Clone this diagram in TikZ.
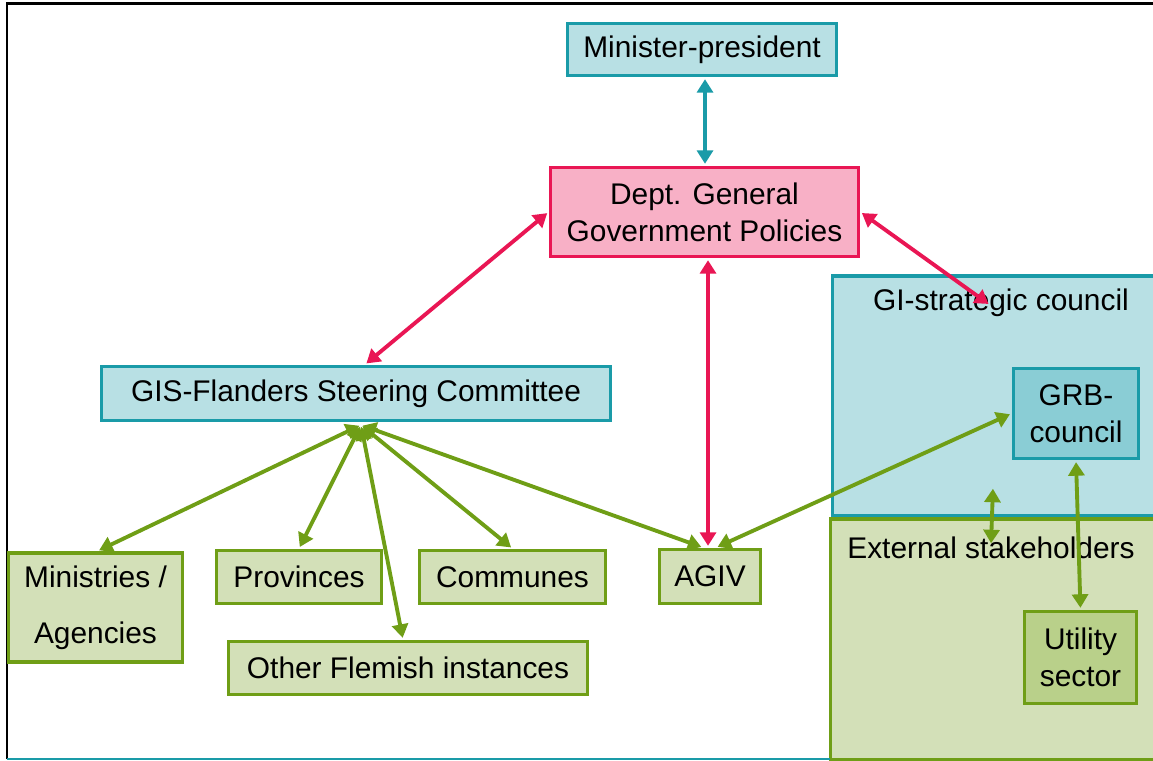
\documentclass[tikz,border=0pt]{standalone}
\usepackage{fontspec}
\setmainfont{Liberation Sans}
\usetikzlibrary{arrows.meta}
\definecolor{tealline}{RGB}{26,155,168}
\definecolor{tealfill}{RGB}{184,224,228}
\definecolor{tealdark}{RGB}{138,205,213}
\definecolor{pinkline}{RGB}{233,22,84}
\definecolor{pinkfill}{RGB}{248,176,198}
\definecolor{greenline}{RGB}{111,158,22}
\definecolor{greenfill}{RGB}{211,224,184}
\definecolor{greendark}{RGB}{185,208,138}

\begin{document}
\begin{tikzpicture}[font=\fontsize{17}{21}\selectfont,
  box/.style={shape=rectangle,line width=2.2pt,inner sep=0pt,align=center},
  bluebox/.style={box,draw=tealline,fill=tealfill},
  greenbox/.style={box,draw=greenline,fill=greenfill},
  twoway/.style={line width=2.2pt,{Triangle[length=0.27cm,width=0.32cm]}-{Triangle[length=0.27cm,width=0.32cm]},shorten <=1pt,shorten >=1pt}]
\useasboundingbox (0,0) rectangle (23.06,-15.22);
% the two large panels on the right
\node[bluebox,minimum width=6.61cm,minimum height=4.8cm] (GSC) at (19.955,-7.92) {};
\node[greenbox,minimum width=6.65cm,minimum height=4.82cm] (EXT) at (19.935,-12.79) {};
\node (GSCt) at (20.02,-6.06) {GI-strategic council};
\node (EXTt) at (19.82,-10.96) {External stakeholders};
% frame
\draw[line width=1.6pt] (0.14,-15.18) -- (0.14,-0.07) -- (23.06,-0.07);
\draw[tealline,line width=1.2pt] (0.14,-15.18) -- (16.6,-15.18);
% boxes
\node[bluebox,minimum width=5.38cm,minimum height=1.04cm] (MP) at (14.04,-0.99) {Minister-president};
\node[box,draw=pinkline,fill=pinkfill,minimum width=6.16cm,minimum height=1.78cm] (DG) at (14.09,-4.24) {Dept. General\\Government Policies};
\node[bluebox,minimum width=10.18cm,minimum height=1.08cm] (GIS) at (7.12,-7.87) {GIS-Flanders Steering Committee};
\node[bluebox,fill=tealdark,minimum width=2.5cm,minimum height=1.8cm] (GRB) at (21.52,-8.27) {GRB-\\council};
\node[greenbox,fill=greendark,minimum width=2.24cm,minimum height=1.84cm] (UT) at (21.61,-13.15) {Utility\\sector};
\node[greenbox,minimum width=3.48cm,minimum height=2.18cm] (MA) at (1.91,-12.15) {Ministries /\\[11pt]Agencies};
\node[greenbox,minimum width=3.3cm,minimum height=1.06cm] (PR) at (5.98,-11.54) {Provinces};
\node[greenbox,minimum width=3.72cm,minimum height=1.06cm] (CO) at (10.25,-11.54) {Communes};
\node[greenbox,minimum width=7.18cm,minimum height=1.06cm] (OF) at (8.16,-13.36) {Other Flemish instances};
\node[greenbox,minimum width=2.02cm,minimum height=1.08cm] (AG) at (14.2,-11.53) {AGIV};
% free arrow ends
\coordinate (hub) at (7.22,-8.5);
\coordinate (GSCtip) at (19.8,-6.1);
\coordinate (GSCdn) at (19.86,-9.74);
\coordinate (EXTup) at (19.82,-10.9);
% links
\path [twoway,tealline] ([xshift=0.06cm]MP.south) edge ([xshift=0.01cm]DG.north);
\path [twoway,pinkline] (DG.west) edge ([xshift=0.18cm]GIS.north);
\path [twoway,pinkline] ([xshift=0.07cm]DG.south) edge ([xshift=-0.04cm]AG.north);
\path [twoway,pinkline] (DG.east) edge (GSCtip);
\path [twoway,greenline] (hub) edge ([xshift=0.04cm]MA.north);
\path [twoway,greenline] (hub) edge (PR.north);
\path [twoway,greenline] (hub) edge ([xshift=-0.1cm]OF.north);
\path [twoway,greenline] (hub) edge (CO.north);
\path [twoway,greenline] (hub) edge ([xshift=-0.14cm]AG.north);
\path [twoway,greenline] ([xshift=0.12cm]AG.north) edge (GRB.west);
\path [twoway,greenline] (GSCdn) edge (EXTup);
\path [twoway,greenline] (GRB.south) edge (UT.north);
\end{tikzpicture}
\end{document}
